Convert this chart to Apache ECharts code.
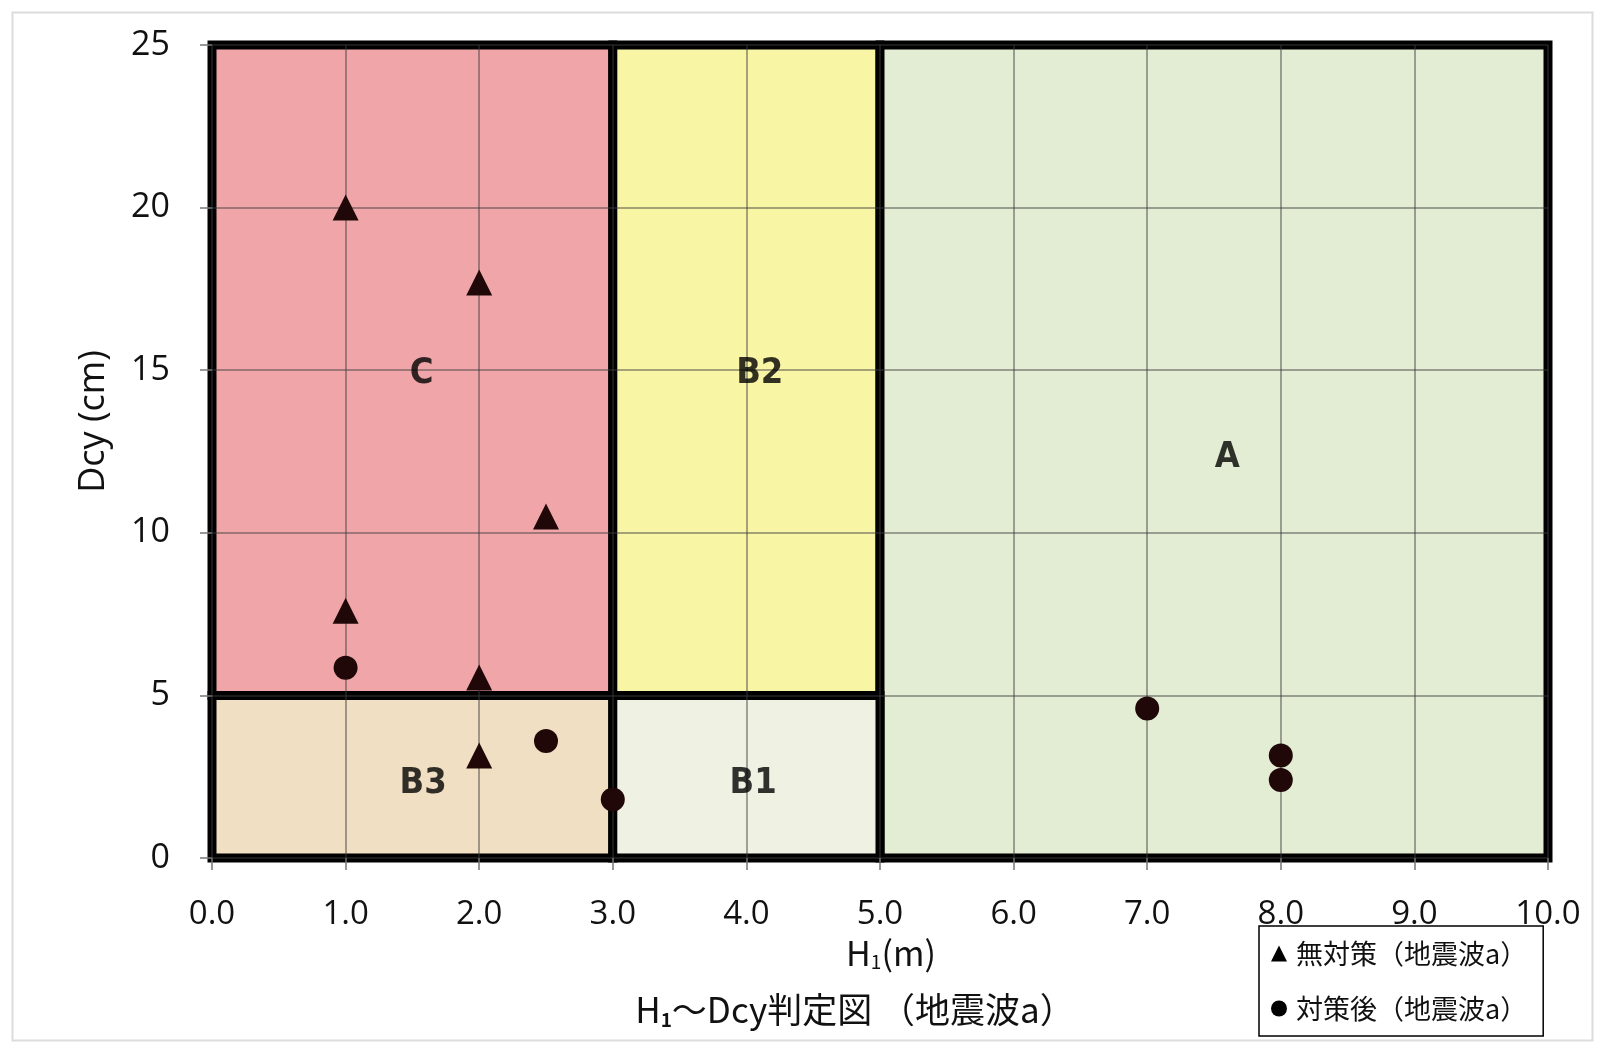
<!DOCTYPE html>
<html>
<head>
<meta charset="utf-8">
<script src="https://cdn.jsdelivr.net/npm/echarts@6/dist/echarts.min.js"></script>
<style>
html,body{margin:0;padding:0;background:#fff;}
#chart{width:1601px;height:1043px;}
</style>
</head>
<body>
<div id="chart"></div>
<script>
// ---- data ----
const xTickLabels = ['0.0','1.0','2.0','3.0','4.0','5.0','6.0','7.0','8.0','9.0','10.0'];
const yTickLabels = ['0','5','10','15','20','25'];

const seriesNoMeasureName = '無対策（地震波a）';
const noMeasureH   = [1.0, 2.0, 2.5, 1.0, 2.0, 2.0];
const noMeasureDcy = [20.0, 17.7, 10.5, 7.6, 5.55, 3.15];

const seriesMeasureName = '対策後（地震波a）';
const measureH   = [1.0, 2.5, 3.0, 7.0, 8.0, 8.0];
const measureDcy = [5.85, 3.6, 1.8, 4.6, 3.15, 2.4];

// judgement regions (data bounds)
const regionNames = ['C', 'B2', 'A', 'B3', 'B1'];
const regionH0   = [0, 3, 5, 0, 3];
const regionH1   = [3, 5, 10, 3, 5];
const regionD0   = [5, 5, 0, 0, 0];
const regionD1   = [25, 25, 25, 5, 5];
// label anchor of each region (data coords)
const regionLabelH   = [1.57, 4.1, 7.6, 1.58, 4.05];
const regionLabelDcy = [14.9, 14.9, 12.3, 2.3, 2.3];

// ---- styles ----
const regionColors = {
  'C':  '#f0a6a9',
  'B2': '#f8f5a4',
  'A':  '#e3edd3',
  'B3': '#f1dfc3',
  'B1': '#eff1e2'
};
const markerColor = '#200808';

const chart = echarts.init(document.getElementById('chart'));

const markAreaData = regionNames.map((n, i) => [
  { xAxis: regionH0[i], yAxis: regionD0[i],
    itemStyle: { color: regionColors[n], borderColor: '#000', borderWidth: 9, opacity: 1 } },
  { xAxis: regionH1[i], yAxis: regionD1[i] }
]);

const labelData = regionNames.map((n, i) => ({ name: n, value: [regionLabelH[i], regionLabelDcy[i]] }));

const numFont = "'Open Sans', 'Noto Sans', sans-serif";
const jpFont = "'Noto Sans CJK JP', 'Noto Sans', sans-serif";

chart.setOption({
  animation: false,
  backgroundColor: '#fff',
  graphic: [{
    type: 'rect', left: 10, top: 10,
    shape: { width: 1580, height: 1028 },
    style: { fill: 'none', stroke: '#dcdcdc', lineWidth: 2 },
    z: -10
  }],
  title: {
    text: '{h|H}{s|1}{h|～Dcy判定図 （地震波a）}',
    left: 855, top: 990, textAlign: 'center', padding: 0,
    textStyle: {
      rich: {
        h: { fontFamily: jpFont, fontSize: 35, color: '#111', fontWeight: 'normal' },
        s: { fontFamily: jpFont, fontSize: 19, color: '#111', padding: [20, 0, 0, 0] }
      }
    }
  },
  legend: {
    orient: 'vertical',
    left: 1259, top: 926,
    padding: [14, 16, 14, 12],
    itemGap: 28,
    itemWidth: 16, itemHeight: 16,
    borderColor: '#000', borderWidth: 1.5,
    backgroundColor: '#fff',
    textStyle: { fontFamily: jpFont, fontSize: 27, color: '#111', padding: [0, 0, 0, 4] },
    data: [
      { name: seriesNoMeasureName, icon: 'triangle', itemStyle: { color: '#000', opacity: 1 } },
      { name: seriesMeasureName, icon: 'circle', itemStyle: { color: '#000', opacity: 1 } }
    ]
  },
  grid: { left: 212, right: 53, top: 45, bottom: 185, containLabel: false },
  xAxis: {
    type: 'value', min: 0, max: 10, interval: 1, z: 5,
    name: '{n|H}{s|1}{n|(m)}',
    nameLocation: 'middle', nameGap: 74,
    nameTextStyle: {
      padding: [0, 0, 0, 22],
      rich: {
        n: { fontFamily: jpFont, fontSize: 34, color: '#111' },
        s: { fontFamily: jpFont, fontSize: 19, color: '#111', padding: [18, 0, 0, 0] }
      }
    },
    axisLine: { show: false },
    axisTick: { show: true, length: 12, lineStyle: { color: '#777', width: 1.5 } },
    axisLabel: {
      margin: 40, fontFamily: numFont, fontSize: 33, color: '#111',
      formatter: (v) => xTickLabels[Math.round(v)]
    },
    splitLine: { show: true, lineStyle: { color: 'rgba(60,60,60,0.45)', width: 2 } }
  },
  yAxis: {
    type: 'value', min: 0, max: 25, interval: 5, z: 5,
    name: 'Dcy (cm)',
    nameLocation: 'middle', nameGap: 100,
    nameTextStyle: { fontFamily: numFont, fontSize: 36, color: '#111', padding: [0, 0, 0, 60] },
    axisLine: { show: false },
    axisTick: { show: true, length: 12, lineStyle: { color: '#777', width: 1.5 } },
    axisLabel: {
      margin: 42, fontFamily: numFont, fontSize: 34, color: '#111',
      formatter: (v) => yTickLabels[Math.round(v / 5)]
    },
    splitLine: { show: true, lineStyle: { color: 'rgba(60,60,60,0.45)', width: 2 } }
  },
  series: [
    {
      name: 'regions', type: 'scatter', data: [], z: 1,
      markArea: { silent: true, data: markAreaData }
    },
    {
      name: 'regionLabels', type: 'scatter', z: 8, symbolSize: 0,
      data: labelData,
      label: {
        show: true, position: 'inside', formatter: (p) => p.name,
        fontFamily: "'DejaVu Sans Condensed', 'Liberation Sans Narrow', sans-serif",
        fontWeight: 'bold', fontSize: 36, color: '#000'
      },
      silent: true
    },
    {
      name: seriesNoMeasureName, type: 'scatter', z: 10,
      symbol: 'triangle', symbolSize: [26, 26],
      itemStyle: { color: markerColor, opacity: 1 },
      data: noMeasureH.map((h, i) => [h, noMeasureDcy[i]])
    },
    {
      name: seriesMeasureName, type: 'scatter', z: 10,
      symbol: 'circle', symbolSize: 24,
      itemStyle: { color: markerColor, opacity: 1 },
      data: measureH.map((h, i) => [h, measureDcy[i]])
    }
  ]
});
</script>
</body>
</html>
